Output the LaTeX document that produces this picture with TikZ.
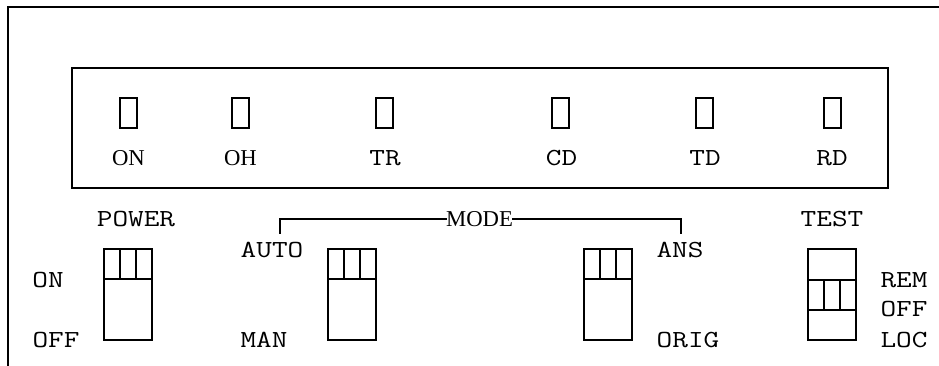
\documentclass[tikz,border=0pt]{standalone}
\usepackage{fontspec}
\newfontfamily\tms{Liberation Serif}
\tikzset{
  ln/.style={line width=2pt, line cap=rect},
  led/.style={draw, line width=1.6pt, minimum width=17pt, minimum height=30pt, inner sep=0pt},
  mono/.style={anchor=base, inner sep=0pt, font=\fontsize{24.5}{24.5}\selectfont\ttfamily},
  serif/.style={anchor=base, inner sep=0pt, font=\fontsize{22.7}{22.7}\selectfont\tms},
}
\newcommand\cw[1]{\scalebox{1.24}[1]{#1}}
\begin{document}
\begin{tikzpicture}[x=1pt,y=-1pt]
\useasboundingbox (0,0) rectangle (939,366);
% outer frame
\draw[ln] (8,366) -- (8,7) -- (939,7);
% indicator panel
\draw[ln] (72,68) rectangle (888,188);
\foreach \nm/\xx in {ON/128.5, OH/240.5, TR/384.5, CD/560.5, TD/704.5, RD/832.5}{
  \node[led] (led\nm) at (\xx,113) {};
}
\node[serif] (labON) at (128.5,166) {ON};
\node[serif] (labOH) at (240.5,166) {OH};
\foreach \nm/\xx in {TR/385, CD/561.5, TD/705, RD/832}{
  \node[mono] (lab\nm) at (\xx,166) {\cw{\nm}};
}
% headings
\node[mono] (power) at (136,226.5) {\cw{POWER}};
\node[mono] (test) at (832,226.5) {\cw{TEST}};
\node[serif] (mode) at (479.5,226) {MODE};
\coordinate (mL) at (280,233);
\coordinate (mR) at (681,233);
\draw[ln] (mL) |- (mode.west);
\draw[ln] (mR) |- (mode.east);
% labels
\node[mono] (pon) at (48,287) {\cw{ON}};
\node[mono] (poff) at (56,347) {\cw{OFF}};
\node[mono] (auto) at (272,257) {\cw{AUTO}};
\node[mono] (man) at (264,347) {\cw{MAN}};
\node[mono] (ans) at (680,257) {\cw{ANS}};
\node[mono] (orig) at (688,347) {\cw{ORIG}};
\node[mono] (rem) at (904,287) {\cw{REM}};
\node[mono] (toff) at (904,316.5) {\cw{OFF}};
\node[mono] (loc) at (904,347) {\cw{LOC}};
% two-position switches (lever up)
\foreach \xl in {104,328,584}{
  \draw[ln] (\xl,249) rectangle (\xl+48,339.5);
  \draw[ln] (\xl,279) -- (\xl+48,279);
  \draw[ln] (\xl+16,249) -- (\xl+16,279) (\xl+32,249) -- (\xl+32,279);
}
% three-position switch (lever middle)
\draw[ln] (808,249) rectangle (856,339.5);
\draw[ln] (808,279.5) -- (856,279.5) (808,309.5) -- (856,309.5);
\draw[ln] (824,279.5) -- (824,309.5) (840,279.5) -- (840,309.5);
\end{tikzpicture}
\end{document}
